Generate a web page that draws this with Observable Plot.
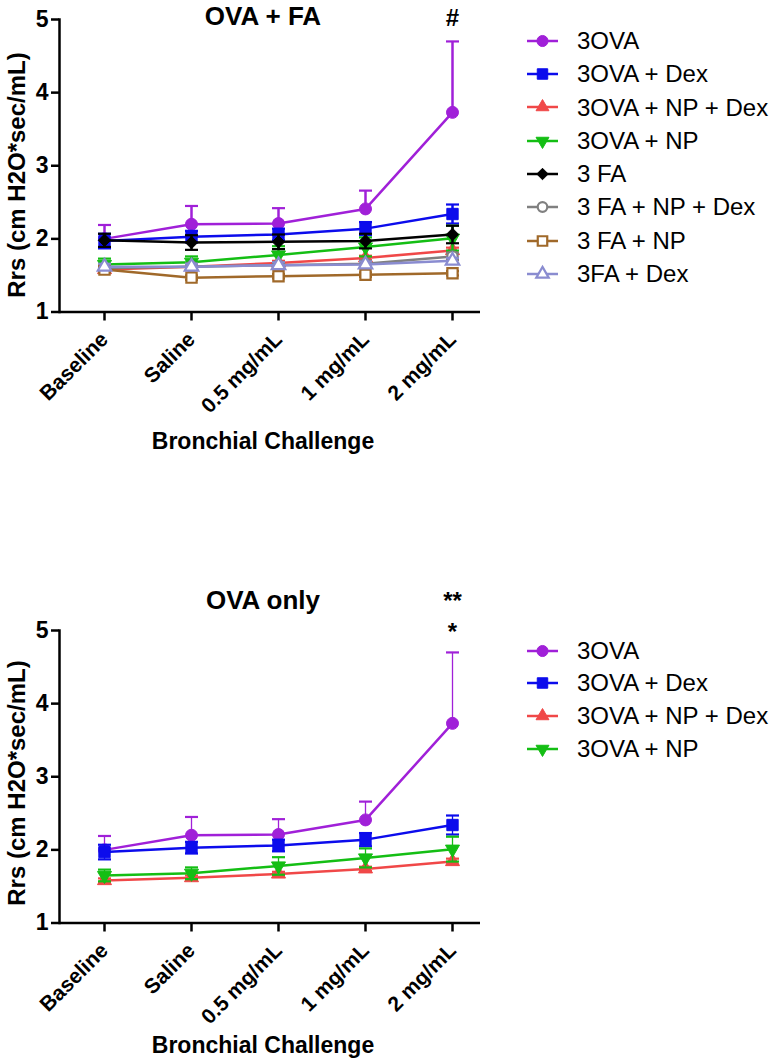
<!DOCTYPE html>
<html><head><meta charset="utf-8">
<script src="https://cdn.jsdelivr.net/npm/d3@7"></script>
<script src="https://cdn.jsdelivr.net/npm/@observablehq/plot@0.6"></script>
<style>
body{margin:0;background:#fff;font-family:"Liberation Sans",Arial,sans-serif;color:#000}
#root{position:relative;width:775px;height:1064px;overflow:hidden;background:#fff}
.abs{position:absolute;white-space:nowrap}
</style></head><body><div id="root"></div>
<script>
// ---------- data ----------
const challenges = ["Baseline", "Saline", "0.5 mg/mL", "1 mg/mL", "2 mg/mL"];
const yTicks = [1, 2, 3, 4, 5];
const seriesNames = ["3OVA", "3OVA + Dex", "3OVA + NP + Dex", "3OVA + NP", "3 FA", "3 FA + NP + Dex", "3 FA + NP", "3FA + Dex"];

const ova        = [2.00, 2.20, 2.21, 2.41, 3.73];
const ovaErr     = [0.19, 0.25, 0.21, 0.25, 0.97];
const ovaDex     = [1.97, 2.03, 2.06, 2.14, 2.34];
const ovaDexErr  = [0.10, 0.08, 0.08, 0.09, 0.13];
const ovaNpDex   = [1.58, 1.62, 1.67, 1.74, 1.84];
const ovaNpDexErr= [0.03, 0.03, 0.03, 0.03, 0.04];
const ovaNp      = [1.65, 1.68, 1.78, 1.89, 2.01];
const ovaNpErr   = [0.08, 0.08, 0.12, 0.13, 0.17];
const fa         = [1.98, 1.95, 1.96, 1.97, 2.06];
const faErr      = [0.09, 0.10, 0.10, 0.10, 0.12];
const faNpDex    = [1.60, 1.62, 1.64, 1.66, 1.76];
const faNpDexErr = [0.04, 0.04, 0.04, 0.04, 0.05];
const faNp       = [1.58, 1.47, 1.49, 1.51, 1.53];
const faNpErr    = [0.03, 0.03, 0.03, 0.03, 0.03];
const faDex      = [1.62, 1.62, 1.64, 1.65, 1.70];
const faDexErr   = [0.04, 0.04, 0.04, 0.04, 0.04];

const means = [ova, ovaDex, ovaNpDex, ovaNp, fa, faNpDex, faNp, faDex];
const errs  = [ovaErr, ovaDexErr, ovaNpDexErr, ovaNpErr, faErr, faNpDexErr, faNpErr, faDexErr];

const panelTitles = ["OVA + FA", "OVA only"];
const panelSeries = [[0,1,2,3,4,5,6,7], [0,1,2,3]];
const annotLabels = [["#"], ["**", "*"]];
const annotX      = [["2 mg/mL"], ["2 mg/mL", "2 mg/mL"]];
const annotY      = [[5.02], [5.40, 4.97]];

// ---------- styles ----------
const colors  = ["#A020D8", "#0C0CEC", "#F04848", "#14BE14", "#000000", "#808080", "#A0692A", "#8A8CD0"];
const symbols = ["circle", "square", "triangle", "triangle", "diamond2", "circle", "square", "triangle"];
const rotates = [0, 0, 0, 180, 0, 0, 0, 0];
const filled  = [true, true, true, true, true, false, false, false];
const radii   = [6, 6.4, 5.2, 5.2, 5.6, 5.2, 5.8, 5.0];
const errBoth = [false, true, true, true, true, true, true, true];

const capSymbol = {draw(ctx) { ctx.moveTo(-6.5, 0); ctx.lineTo(6.5, 0); }};

const root = document.getElementById("root");

function addDiv(text, css) {
  const d = document.createElement("div");
  d.className = "abs";
  d.textContent = text;
  Object.assign(d.style, css);
  root.appendChild(d);
  return d;
}

function panel(p, top, cfg) {
  const marks = [];
  for (const s of panelSeries[p]) {
    const rows = challenges.map((c, i) => ({x: c, y: means[s][i], e: errs[s][i]}));
    marks.push(Plot.line(rows, {x: "x", y: "y", stroke: colors[s], strokeWidth: 2.5}));
    marks.push(Plot.ruleX(rows, {x: "x", y1: d => errBoth[s] ? d.y - d.e : d.y, y2: d => d.y + d.e,
      stroke: colors[s], strokeWidth: cfg.errW}));
    marks.push(Plot.dot(rows, {x: "x", y: d => d.y + d.e, symbol: capSymbol, stroke: colors[s], strokeWidth: 2.2, fill: "none"}));
    if (errBoth[s]) marks.push(Plot.dot(rows, {x: "x", y: d => d.y - d.e, symbol: capSymbol, stroke: colors[s], strokeWidth: 2.2, fill: "none"}));
    marks.push(Plot.dot(rows, {x: "x", y: "y", symbol: symbols[s], r: radii[s], rotate: rotates[s],
      fill: filled[s] ? colors[s] : "white", stroke: colors[s], strokeWidth: filled[s] ? 1 : 2.2}));
  }
  const ann = annotLabels[p].map((t, i) => ({t, x: annotX[p][i], y: annotY[p][i]}));
  marks.push(Plot.text(ann, {x: "x", y: "y", text: "t", fontSize: 24, fontWeight: "bold"}));
  marks.push(Plot.ruleY([yTicks[0]], {strokeWidth: 2.5}));
  marks.push(Plot.frame({anchor: "left", strokeWidth: 2.5}));
  marks.push(Plot.axisY({ticks: yTicks, tickSize: 8, tickPadding: 3, strokeWidth: 2.5, label: null,
    fontSize: 23, fontWeight: "bold", tickFormat: d => String(d)}));
  marks.push(Plot.axisX({tickRotate: -45, tickSize: 9, tickPadding: 15, strokeWidth: 2.5, label: null,
    fontSize: 21, fontWeight: "bold"}));

  const svg = Plot.plot({
    width: 490, height: cfg.height,
    marginLeft: 59, marginRight: 10, marginTop: cfg.mt, marginBottom: cfg.height - cfg.mt - 292.5,
    x: {type: "point", domain: challenges, range: [103, 453], padding: 0},
    y: {domain: [1, 5]},
    style: {fontFamily: "'Liberation Sans', Arial, sans-serif", fontSize: "21px", fontWeight: "bold",
      color: "#000", background: "transparent", overflow: "visible"},
    marks
  });
  svg.style.position = "absolute";
  svg.style.left = "0px";
  svg.style.top = top + "px";
  root.appendChild(svg);

  // title
  addDiv(panelTitles[p], {left: "63px", width: "400px", textAlign: "center", top: cfg.titleTop + "px",
    fontSize: "26px", lineHeight: "26px", fontWeight: "bold"});
  // x-axis title
  addDiv("Bronchial Challenge", {left: "63px", width: "400px", textAlign: "center", top: cfg.xtTop + "px",
    fontSize: "23px", lineHeight: "23px", fontWeight: "bold"});
  // y-axis title
  addDiv("Rrs (cm H2O*sec/mL)", {left: (17 - 160) + "px", width: "320px", textAlign: "center",
    top: (cfg.ytCenter - 12) + "px", fontSize: "24px", lineHeight: "24px", fontWeight: "bold",
    transform: "rotate(-90deg)", transformOrigin: "50% 50%"});

  // legend
  panelSeries[p].forEach((s, k) => {
    const cy = cfg.legTop + k * cfg.legStep;
    const ls = d3.create("svg").attr("width", 40).attr("height", 24)
      .style("position", "absolute").style("left", "522px").style("top", (cy - 12) + "px").style("overflow", "visible");
    ls.append("line").attr("x1", 5).attr("x2", 36).attr("y1", 12).attr("y2", 12)
      .attr("stroke", colors[s]).attr("stroke-width", 2.5);
    const typeMap = {circle: d3.symbolCircle, square: d3.symbolSquare, triangle: d3.symbolTriangle, diamond2: d3.symbolDiamond2};
    ls.append("path").attr("d", d3.symbol(typeMap[symbols[s]], Math.PI * radii[s] * radii[s] * 0.85)())
      .attr("transform", `translate(20.5,12) rotate(${rotates[s]})`)
      .attr("fill", filled[s] ? colors[s] : "white").attr("stroke", colors[s]).attr("stroke-width", filled[s] ? 1 : 2.2);
    root.appendChild(ls.node());
    addDiv(seriesNames[s], {left: "577px", top: (cy - 11.8) + "px", fontSize: "24px", lineHeight: "24px"});
  });
}

panel(0, 0,   {height: 460, mt: 19, errW: 2.5, titleTop: 3, xtTop: 430, ytCenter: 175, legTop: 40.7, legStep: 33.3});
panel(1, 570, {height: 494, mt: 60, errW: 1.3, titleTop: 587, xtTop: 1034, ytCenter: 783, legTop: 650.5, legStep: 32.7});
</script></body></html>
